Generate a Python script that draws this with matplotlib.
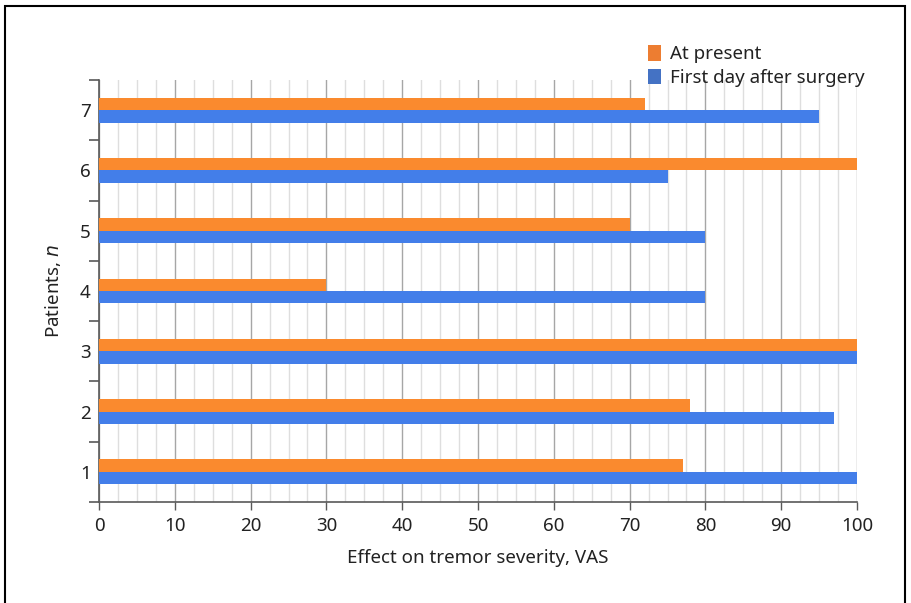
import matplotlib
matplotlib.use("Agg")
import matplotlib.pyplot as plt
from matplotlib.patches import Rectangle, Patch
from matplotlib.ticker import MultipleLocator, FixedLocator
import numpy as np

patients = [1, 2, 3, 4, 5, 6, 7]
at_present = [77, 78, 100, 30, 70, 100, 72]
first_day = [100, 97, 100, 80, 80, 75, 95]
xticks = [0, 10, 20, 30, 40, 50, 60, 70, 80, 90, 100]

plt.rcParams['font.family'] = ['Noto Sans', 'DejaVu Sans']

W, H = 911, 603
fs = 13.5
fig = plt.figure(figsize=(W/100, H/100), dpi=100)
ax = fig.add_axes([99/W, 1-502/H, (857-99)/W, (502-80)/H])

orange_bar = '#FA8A2E'
blue_bar = '#437EE9'
orange_leg = '#ED7D31'
blue_leg = '#4472C4'

y = np.array(patients, dtype=float)
h = 0.205
ax.barh(y + h/2, at_present, height=h, color=orange_bar, zorder=3)
ax.barh(y - h/2, first_day, height=h, color=blue_bar, zorder=3)

ax.set_xlim(0, 100)
ax.set_ylim(0.5, 7.5)

ax.xaxis.set_major_locator(FixedLocator(xticks))
ax.xaxis.set_minor_locator(MultipleLocator(2.5))
ax.grid(which='major', axis='x', color='#a6a6a6', linewidth=1.0, zorder=0)
ax.grid(which='minor', axis='x', color='#dedede', linewidth=1.0, zorder=0)
ax.set_axisbelow(True)

ax.set_yticks(patients)
ax.set_yticks(np.arange(0.5, 7.6, 1.0), minor=True)
ax.tick_params(axis='y', which='major', length=0, pad=6, labelsize=fs, colors='#222222')
ax.tick_params(axis='y', which='minor', length=7, width=1.2, color='#595959', direction='out')
ax.tick_params(axis='x', which='major', length=6, width=1.0, color='#595959', direction='out', pad=5, labelsize=fs, labelcolor='#222222')
ax.tick_params(axis='x', which='minor', length=0)

for s in ['top', 'right']:
    ax.spines[s].set_visible(False)
for s in ['left', 'bottom']:
    ax.spines[s].set_color('#595959')
    ax.spines[s].set_linewidth(1.2)

ax.set_xlabel('Effect on tremor severity, VAS', fontsize=fs, color='#222222', labelpad=10)
ax.set_ylabel('Patients, $\\it{n}$', fontsize=fs, color='#222222', labelpad=12)

handles = [Patch(facecolor=orange_leg, label='At present'),
           Patch(facecolor=blue_leg, label='First day after surgery')]
fig.legend(handles=handles, loc='upper left', bbox_to_anchor=(648/W, 1-45/H),
           frameon=False, fontsize=fs, handlelength=0.7, handleheight=0.9,
           handletextpad=0.5, labelspacing=0.3, borderaxespad=0, borderpad=0,
           labelcolor='#222222')

fig.patches.append(Rectangle((5/W, -0.1), (905-5)/W, 1.1 - 6/H, transform=fig.transFigure,
                             fill=False, edgecolor='black', linewidth=1.5))

fig.savefig('out.png', dpi=100)
